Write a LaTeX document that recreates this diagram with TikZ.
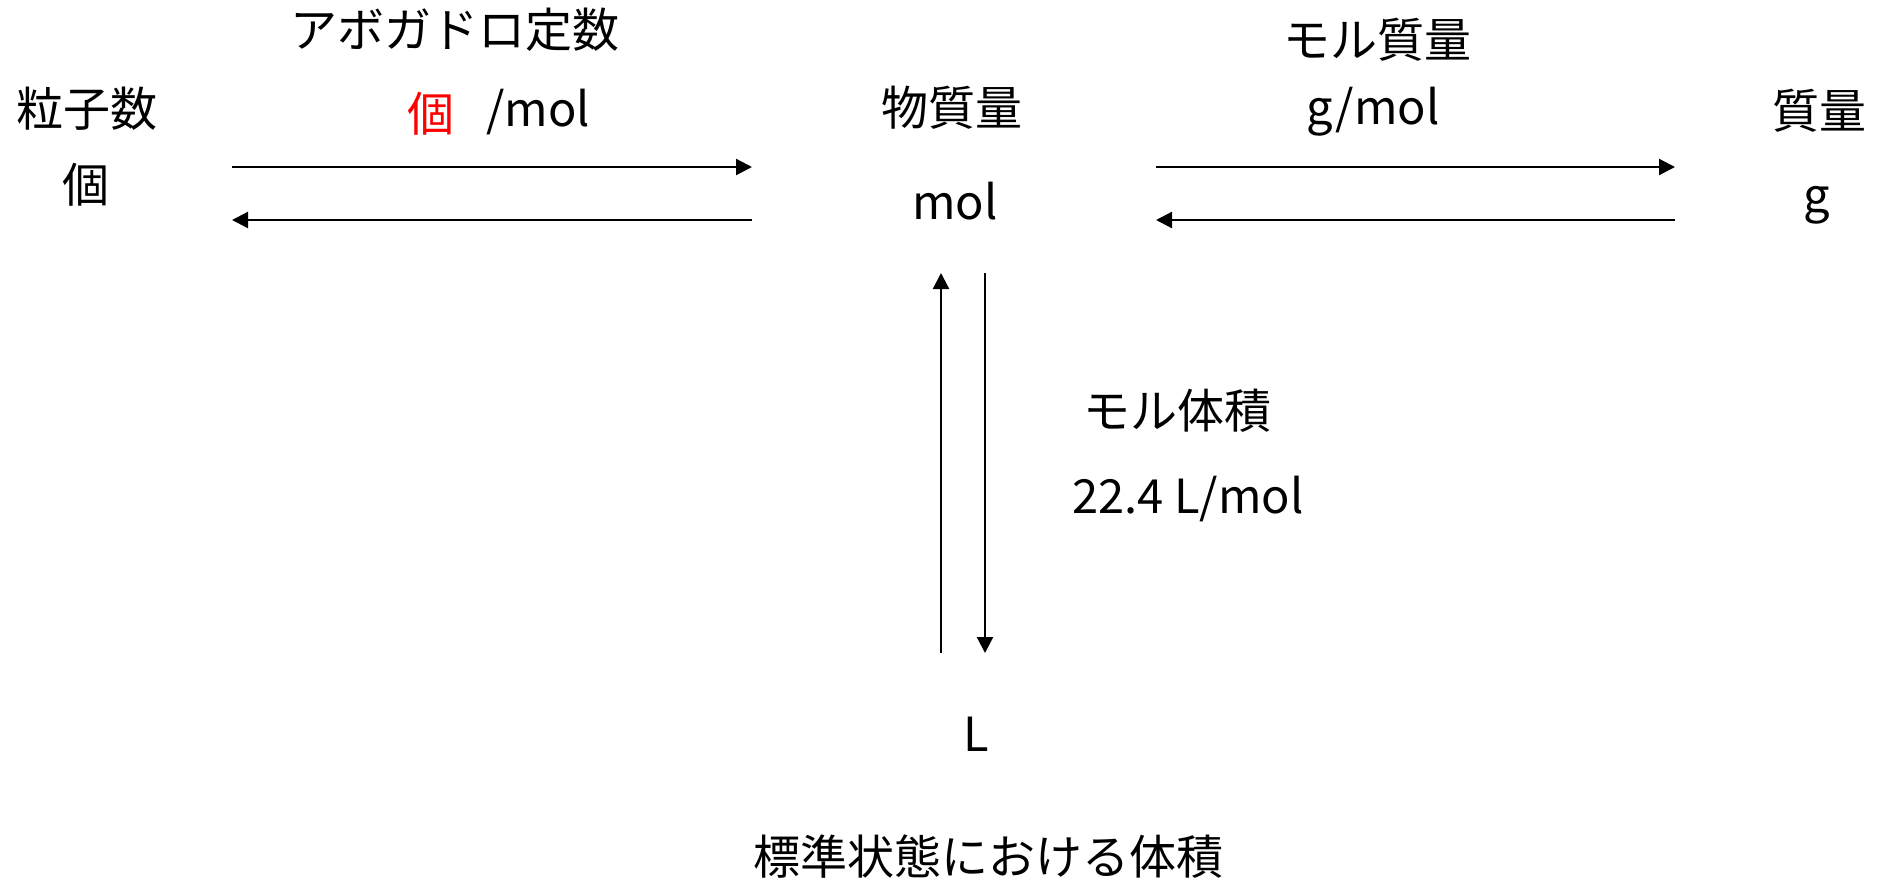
\documentclass[tikz,border=0pt]{standalone}
\usepackage{fontspec}
\setmainfont{Noto Sans CJK JP}
\usetikzlibrary{arrows.meta}
\tikzset{
  lbl/.style={inner sep=0pt, anchor=center, font=\fontsize{47}{54}\selectfont},
  conv/.style={line width=2.3pt, -{Triangle[length=16pt,width=16pt]}}
}
\begin{document}
\begin{tikzpicture}[x=1pt,y=-1pt]
\useasboundingbox (0,0) rectangle (1878,884);
% labels
\node[lbl] (ryushisu) at (87,109) {粒子数};
\node[lbl] (ko) at (86,185) {個};
\node[lbl] (avo) at (455,30) {アボガドロ定数};
\node[lbl,text=red] (kored) at (431,114) {個};
\node[lbl] (permol) at (538,112) {/mol};
\node[lbl] (bussitsu) at (952,108) {物質量};
\node[lbl] (mol) at (955,201) {mol};
\node[lbl] (molmass) at (1377,40) {モル質量};
\node[lbl] (gpermol) at (1373,112) {g/mol};
\node[lbl] (shitsuryo) at (1819,111) {質量};
\node[lbl] (g) at (1817,205) {g};
\node[lbl] (molvol) at (1177,411) {モル体積};
\node[lbl] (vol) at (1188,499) {22.4 L/mol};
\node[lbl] (L) at (976,734) {L};
\node[lbl] (std) at (988,857) {標準状態における体積};
% arrow end points
\coordinate (a1s) at (232,167); \coordinate (a1e) at (752,167);
\coordinate (a2s) at (752,220); \coordinate (a2e) at (232,220);
\coordinate (b1s) at (1156,167); \coordinate (b1e) at (1675,167);
\coordinate (b2s) at (1675,220); \coordinate (b2e) at (1156,220);
\coordinate (c1s) at (941,653); \coordinate (c1e) at (941,273);
\coordinate (c2s) at (985,273); \coordinate (c2e) at (985,653);
\draw[conv] (a1s) -- (a1e);
\draw[conv] (a2s) -- (a2e);
\draw[conv] (b1s) -- (b1e);
\draw[conv] (b2s) -- (b2e);
\draw[conv] (c1s) -- (c1e);
\draw[conv] (c2s) -- (c2e);
\end{tikzpicture}
\end{document}
